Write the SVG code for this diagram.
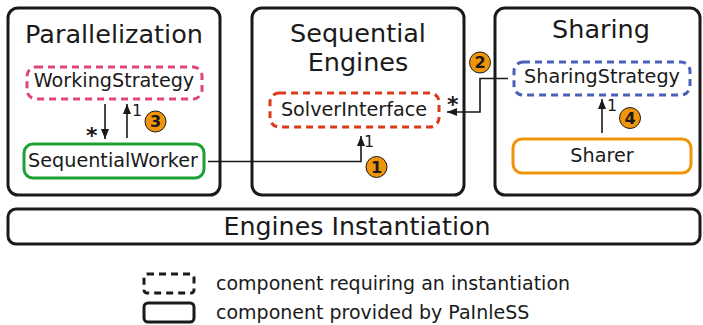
<svg xmlns="http://www.w3.org/2000/svg" width="703" height="325" viewBox="0 0 703 325">
<style>
text{font-family:"DejaVu Sans","Liberation Sans",sans-serif;fill:#1a1a1a}
.outer{fill:#fff;stroke:#1a1a1a;stroke-width:3}
.title{font-size:25.5px;text-anchor:middle}
.lbl{font-size:19.2px;text-anchor:middle}
.dash{fill:#fff;stroke-width:3;stroke-dasharray:7 5}
.solid{fill:#fff;stroke-width:3}
.conn{fill:none;stroke:#1a1a1a;stroke-width:1.6}
.badge circle{fill:#f0940a;stroke:#1a1a1a;stroke-width:1}
.badge text{font-size:16px;font-weight:bold;text-anchor:middle}
.mult{font-size:16px}
.star{font-size:22px;font-weight:bold}
.leg{font-size:19px}
</style>
<defs>
<marker id="ah" markerWidth="10" markerHeight="8" refX="10" refY="4" orient="auto" markerUnits="userSpaceOnUse">
<path d="M0,0 L10,4 L0,8 Z" fill="#1a1a1a"/>
</marker>
</defs>

<g id="parallelization">
<rect class="outer" x="8" y="8" width="212" height="187" rx="10"/>
<text class="title" x="114" y="43">Parallelization</text>
</g>
<g id="sequential-engines">
<rect class="outer" x="252" y="8" width="212" height="187" rx="10"/>
<text class="title" x="358" y="42">Sequential</text>
<text class="title" x="358" y="71">Engines</text>
</g>
<g id="sharing">
<rect class="outer" x="495" y="8" width="205" height="187" rx="10"/>
<text class="title" x="601" y="38">Sharing</text>
</g>
<g id="engines-instantiation">
<rect class="outer" x="8" y="209" width="692" height="35" rx="8"/>
<text x="357" y="235" style="font-size:25.3px;text-anchor:middle">Engines Instantiation</text>
</g>

<g id="working-strategy">
<rect class="dash" x="27" y="67" width="175" height="32" rx="9" stroke="#e0457b"/>
<text class="lbl" x="114" y="87">WorkingStrategy</text>
</g>
<g id="sequential-worker">
<rect class="solid" x="24" y="144" width="180" height="34" rx="9" stroke="#1fa035"/>
<text class="lbl" x="113" y="167">SequentialWorker</text>
</g>
<g id="solver-interface">
<rect class="dash" x="270" y="93" width="169" height="34" rx="9" stroke="#dc3a1a"/>
<text class="lbl" x="354" y="116">SolverInterface</text>
</g>
<g id="sharing-strategy">
<rect class="dash" x="514" y="62" width="176" height="33" rx="9" stroke="#4a60b8"/>
<text class="lbl" x="602" y="83">SharingStrategy</text>
</g>
<g id="sharer">
<rect class="solid" x="513" y="139" width="178" height="34" rx="9" stroke="#f0940a"/>
<text class="lbl" x="602" y="162">Sharer</text>
</g>

<g id="connectors">
<line class="conn" x1="105" y1="104" x2="105" y2="139" marker-end="url(#ah)"/>
<text class="star" x="86" y="143">*</text>
<line class="conn" x1="127" y1="138" x2="127" y2="104" marker-end="url(#ah)"/>
<text class="mult" x="132" y="116">1</text>
<polyline class="conn" points="208,161.5 361,161.5 361,136" marker-end="url(#ah)"/>
<text class="mult" x="364" y="147">1</text>
<polyline class="conn" points="508,78.5 480,78.5 480,112 447,112" marker-end="url(#ah)"/>
<text class="star" x="447" y="112">*</text>
<line class="conn" x1="602" y1="133" x2="602" y2="99" marker-end="url(#ah)"/>
<text class="mult" x="607" y="111">1</text>
</g>

<g class="badge" id="badge-1"><circle cx="376.5" cy="167" r="10.5"/><text x="376.5" y="172.5">1</text></g>
<g class="badge" id="badge-2"><circle cx="480" cy="62.5" r="10.5"/><text x="480" y="68">2</text></g>
<g class="badge" id="badge-3"><circle cx="155.5" cy="121.5" r="10.5"/><text x="155.5" y="127">3</text></g>
<g class="badge" id="badge-4"><circle cx="630" cy="118" r="10.5"/><text x="630" y="123.5">4</text></g>

<g id="legend">
<rect class="dash" x="144" y="274" width="50" height="19" rx="3" stroke="#1a1a1a"/>
<rect class="solid" x="144" y="303" width="50" height="19" rx="4" stroke="#1a1a1a"/>
<text class="leg" x="216" y="290">component requiring an instantiation</text>
<text class="leg" x="216" y="319">component provided by PaInleSS</text>
</g>
</svg>
